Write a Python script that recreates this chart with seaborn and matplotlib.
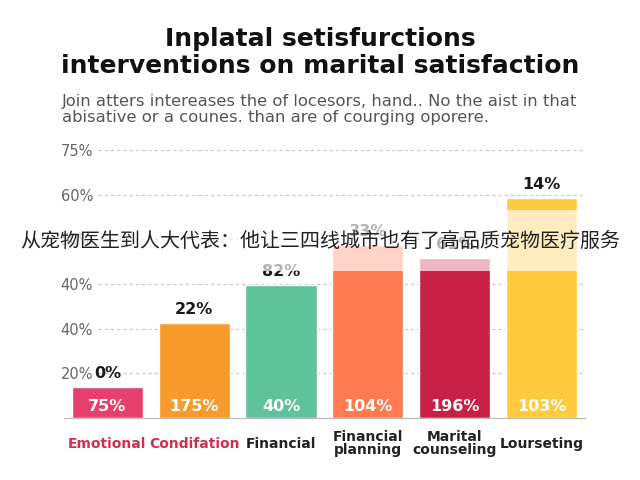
import matplotlib
matplotlib.use("Agg")
import matplotlib.pyplot as plt
import seaborn as sns
import pandas as pd
from matplotlib.patches import Rectangle

# chart data (bar heights in axis units, ticks every 10)
bar_names = ["Emotional", "Condifation", "Financial", "Financial\nplanning",
             "Marital\ncounseling", "Lourseting"]
bar_values = [6.9, 21.3, 29.8, 38.7, 35.8, 49.2]
top_labels = ["0%", "22%", "82%", "33%", "61%", "14%"]
inner_labels = ["75%", "175%", "40%", "104%", "196%", "103%"]
bar_colors = ["#E8406C", "#F89A2C", "#5EC39A", "#FF7A4E", "#C81F44", "#FFCA3E"]
y_ticks = [10, 20, 30, 40, 50, 60]
y_tick_labels = ["20%", "40%", "40%", "50%", "60%", "75%"]

title = "Inplatal setisfurctions\ninterventions on marital satisfaction"
subtitle = ("Join atters intereases the of locesors, hand.. No the aist in that\n"
            "abisative or a counes. than are of courging oporere.")
overlay = "从宠物医生到人大代表：他让三四线城市也有了高品质宠物医疗服务"

sns.set_style("white")
plt.rcParams['font.family'] = ['DejaVu Sans', 'Noto Sans CJK SC']

df = pd.DataFrame({"name": bar_names, "value": bar_values})

fig = plt.figure(figsize=(6.4, 4.8), dpi=100)
ax = fig.add_axes([0.1, 0.129, 0.814, 0.577])

sns.barplot(data=df, x="name", y="value", hue="name", palette=bar_colors,
            width=0.82, saturation=1, legend=False, ax=ax, zorder=2)

ax.set_xlim(-0.5, 5.5)
ax.set_ylim(0, 62)

# dashed grid starting right of the tick labels
for t in y_ticks:
    ax.hlines(t, -0.11, 5.5, colors="#c8c8c8", linestyles=(0, (2.5, 2.5)),
              linewidth=0.9, zorder=1)

ax.set_yticks(y_ticks, y_tick_labels)
ax.tick_params(axis="y", length=0, pad=2.5, labelsize=10.5, labelcolor="#666666")
for lab in ax.get_yticklabels():
    lab.set_horizontalalignment("left")

ax.set_xticks(range(len(bar_names)), bar_names)
ax.set_xticks([i - 0.5 for i in range(len(bar_names) + 1)], minor=True)
ax.tick_params(axis="x", which="major", length=0, pad=18.5, labelsize=10)
ax.tick_params(axis="x", which="minor", length=3, width=0.9, color="#bbbbbb",
               direction="out")
for i, lab in enumerate(ax.get_xticklabels()):
    lab.set_fontweight("bold")
    lab.set_verticalalignment("center")
    lab.set_linespacing(0.95)
    lab.set_color("#D0304F" if i < 2 else "#222222")

ax.set_xlabel("")
ax.set_ylabel("")
sns.despine(ax=ax, left=True)
ax.spines["bottom"].set_color("#bbbbbb")
ax.spines["bottom"].set_linewidth(0.9)

for i, v in enumerate(bar_values):
    ax.text(i, v + 3.1, top_labels[i], ha="center", va="center",
            fontsize=11.5, fontweight="bold", color="#1a1a1a", zorder=3)
    ax.text(i, 2.5, inner_labels[i], ha="center", va="center",
            fontsize=11.5, fontweight="bold", color="white", zorder=3)

fig.text(0.5, 0.891, title, ha="center", va="center", fontsize=18,
         fontweight="bold", color="#111111", linespacing=1.15)
fig.text(0.097, 0.772, subtitle, ha="left", va="center", fontsize=11.8,
         color="#555555", linespacing=1.05)

# washed-out band with the overlaid headline
fig.patches.append(Rectangle((0, 0.4354), 1, 0.127, transform=fig.transFigure,
                             facecolor="white", alpha=0.68, edgecolor="none",
                             zorder=5))
fig.text(0.5, 0.496, overlay, ha="center", va="center", fontsize=14.4,
         color="#222222", family=['Noto Sans CJK SC', 'DejaVu Sans'], zorder=6)

fig.savefig("out.png", dpi=100)
